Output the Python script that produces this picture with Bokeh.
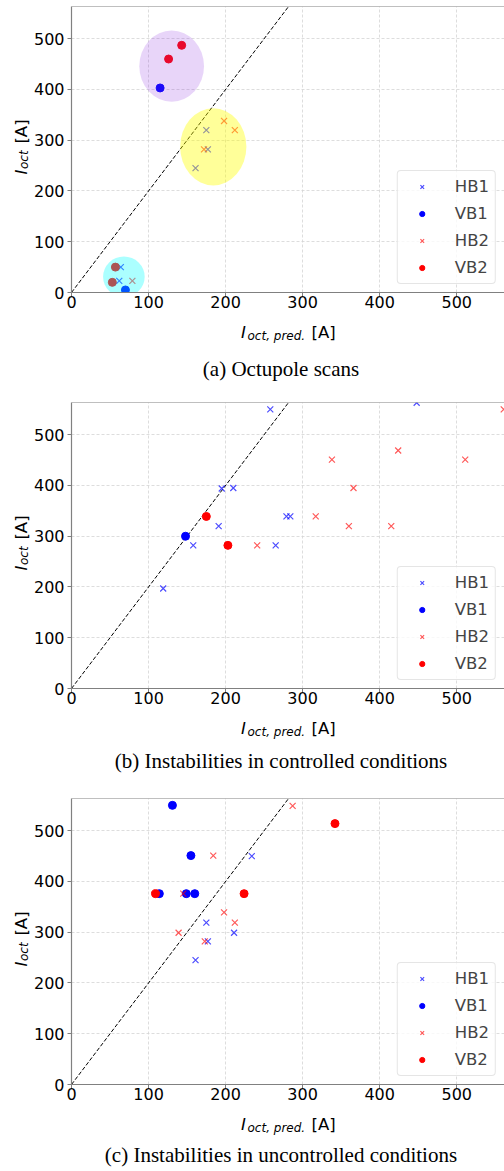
from math import pi
from bokeh.plotting import figure
from bokeh.models import Range1d, FixedTicker, Span, Legend, LegendItem
from bokeh.core.properties import value
from bokeh.layouts import column, row
from bokeh.embed import file_html
from bokeh.resources import INLINE

# ---------------- data ----------------
ticks = [0, 100, 200, 300, 400, 500]
x_max = 562
y_max = 563.5
ref_slope = 2.0
ref_x = [0, 300]

# (a) Octupole scans
a_hb1_x = [175, 177, 161, 64, 62]
a_hb1_y = [320, 282, 245, 50, 23]
a_vb1_x = [115, 70]
a_vb1_y = [403, 5]
a_hb2_x = [198, 212, 172, 79]
a_hb2_y = [338, 320, 282, 23]
a_vb2_x = [143, 126, 57, 53]
a_vb2_y = [487, 460, 50, 20]
ell_x = [130, 184, 68]
ell_y = [446, 287, 31]
ell_w = [84, 86, 54]
ell_h = [140, 152, 80]
ell_color = ["blueviolet", "yellow", "cyan"]
ell_alpha = [0.2, 0.4, 0.33]

# (b) Instabilities in controlled conditions
b_hb1_x = [258, 448, 195, 210, 191, 158, 119, 279, 284, 265]
b_hb1_y = [550, 563, 394, 395, 320, 282, 197, 339, 339, 282]
b_vb1_x = [148]
b_vb1_y = [300]
b_hb2_x = [241, 317, 338, 366, 360, 415, 424, 511, 561]
b_hb2_y = [282, 339, 451, 395, 320, 320, 469, 451, 550]
b_vb2_x = [175, 203]
b_vb2_y = [339, 282]

# (c) Instabilities in uncontrolled conditions
c_hb1_x = [234, 175, 211, 177, 161]
c_hb1_y = [450, 319, 299, 282, 245]
c_vb1_x = [131, 155, 149, 160, 114]
c_vb1_y = [550, 451, 376, 376, 376]
c_hb2_x = [287, 184, 145, 198, 212, 139, 173]
c_hb2_y = [549, 451, 376, 339, 319, 299, 282]
c_vb2_x = [109, 224, 342]
c_vb2_y = [376, 376, 514]

captions = ["(a) Octupole scans",
            "(b) Instabilities in controlled conditions",
            "(c) Instabilities in uncontrolled conditions"]
legend_labels = ["HB1", "VB1", "HB2", "VB2"]
x_label_parts = ["I", "oct, pred.", "[A]"]
y_label_parts = ["I", "oct", "[A]"]

SPINE = "#808080"
FONT = "DejaVu Sans"
YSTRIP_W = 30
MAIN_H = 315


def strip(width, height):
    s = figure(width=width, height=height,
               x_range=Range1d(0, width), y_range=Range1d(0, height),
               x_axis_type=None, y_axis_type=None,
               output_backend="svg", toolbar_location=None,
               min_border=0)
    s.outline_line_color = None
    s.background_fill_color = "white"
    s.border_fill_color = "white"
    return s


def make_main(data, ellipses=False):
    p = figure(width=504 - YSTRIP_W, height=MAIN_H,
               x_range=Range1d(0, x_max), y_range=Range1d(0, y_max),
               output_backend="svg", toolbar_location=None,
               min_border_left=70 - YSTRIP_W, min_border_right=0,
               min_border_top=6, min_border_bottom=23)
    p.outline_line_color = None
    p.background_fill_color = "white"
    p.border_fill_color = "white"

    for ax in (p.xaxis[0], p.yaxis[0]):
        ax.ticker = FixedTicker(ticks=ticks)
        ax.axis_line_color = SPINE
        ax.axis_line_width = 1.2
        ax.major_tick_line_color = SPINE
        ax.major_tick_in = 0
        ax.major_tick_out = 4
        ax.minor_tick_line_color = None
        ax.major_label_text_font = FONT
        ax.major_label_text_font_size = "16px"
        ax.major_label_text_color = "black"
    p.xaxis[0].major_label_standoff = -1
    p.yaxis[0].major_label_standoff = 3

    p.grid.grid_line_color = "#d4d4d4"
    p.grid.grid_line_dash = "3 2"
    p.grid.grid_line_width = 0.8

    p.add_layout(Span(location=y_max, dimension="width",
                      line_color=SPINE, line_width=1.2))

    p.line(ref_x, [ref_slope * v for v in ref_x], line_color="black",
           line_dash="4 2", line_width=1)

    hb1x, hb1y, vb1x, vb1y, hb2x, hb2y, vb2x, vb2y = data
    r1 = p.scatter(hb1x, hb1y, marker="x", size=8.5, line_color="blue",
                   line_alpha=0.7, line_width=1.2)
    r2 = p.scatter(vb1x, vb1y, marker="circle", size=8, fill_color="blue",
                   line_color="blue")
    r3 = p.scatter(hb2x, hb2y, marker="x", size=8.5, line_color="red",
                   line_alpha=0.65, line_width=1.2)
    r4 = p.scatter(vb2x, vb2y, marker="circle", size=8, fill_color="red",
                   line_color="red")

    if ellipses:
        for i in range(len(ell_x)):
            p.ellipse(x=[ell_x[i]], y=[ell_y[i]], width=[ell_w[i]],
                      height=[ell_h[i]], fill_color=ell_color[i],
                      fill_alpha=ell_alpha[i], line_color=None)

    leg = Legend(items=[LegendItem(label=lab, renderers=[r])
                        for lab, r in zip(legend_labels, [r1, r2, r3, r4])],
                 location="bottom_right", margin=8, padding=6, spacing=8,
                 glyph_width=36, glyph_height=13, label_height=18,
                 label_standoff=15,
                 label_text_font=FONT, label_text_font_size="16.5px",
                 border_line_color="#cccccc", border_line_width=1,
                 background_fill_color="white", background_fill_alpha=0.8)
    try:
        leg.border_radius = 4
    except Exception:
        pass
    p.add_layout(leg)
    return p


def make_ystrip():
    s = strip(YSTRIP_W, MAIN_H)
    h = MAIN_H
    # y label  I_oct [A], read bottom to top
    s.text(x=[20.5], y=[h - 185], text=[y_label_parts[0]], angle=pi / 2,
           text_font=value(FONT), text_font_style="italic",
           text_font_size="16.5px", text_align="left",
           text_baseline="alphabetic", text_color="black")
    s.text(x=[23.5], y=[h - 179], text=[y_label_parts[1]], angle=pi / 2,
           text_font=value(FONT), text_font_style="italic",
           text_font_size="12px", text_align="left",
           text_baseline="alphabetic", text_color="black")
    s.text(x=[20.5], y=[h - 151], text=[y_label_parts[2]], angle=pi / 2,
           text_font=value(FONT), text_font_style="normal",
           text_font_size="16.5px", text_align="left",
           text_baseline="alphabetic", text_color="black")
    return s


def make_bstrip(height, caption, cap_top):
    s = strip(504, height)
    h = height
    s.text(x=[240.5], y=[h - 17.2], text=[x_label_parts[0]],
           text_font=value(FONT), text_font_style="italic",
           text_font_size="16.5px", text_align="left",
           text_baseline="alphabetic", text_color="black")
    s.text(x=[247], y=[h - 20], text=[x_label_parts[1]],
           text_font=value(FONT), text_font_style="italic",
           text_font_size="12px", text_align="left",
           text_baseline="alphabetic", text_color="black")
    s.text(x=[311], y=[h - 17.2], text=[x_label_parts[2]],
           text_font=value(FONT), text_font_style="normal",
           text_font_size="16.5px", text_align="left",
           text_baseline="alphabetic", text_color="black")
    s.text(x=[280.5], y=[h - cap_top], text=[caption],
           text_font=value("Liberation Serif"), text_font_style="normal",
           text_font_size="21px", text_align="center",
           text_baseline="middle", text_color="black")
    return s


def block(data, caption, bottom_h, cap_top, ellipses=False):
    main = make_main(data, ellipses)
    return column(row(make_ystrip(), main, spacing=0),
                  make_bstrip(bottom_h, caption, cap_top), spacing=0)


ba = block((a_hb1_x, a_hb1_y, a_vb1_x, a_vb1_y,
            a_hb2_x, a_hb2_y, a_vb2_x, a_vb2_y),
           captions[0], 81, 53, ellipses=True)
bb = block((b_hb1_x, b_hb1_y, b_vb1_x, b_vb1_y,
            b_hb2_x, b_hb2_y, b_vb2_x, b_vb2_y),
           captions[1], 81, 49)
bc = block((c_hb1_x, c_hb1_y, c_vb1_x, c_vb1_y,
            c_hb2_x, c_hb2_y, c_vb2_x, c_vb2_y),
           captions[2], 64, 47)

layout = column(ba, bb, bc, spacing=0)
open("out.html", "w").write(file_html(layout, INLINE))
